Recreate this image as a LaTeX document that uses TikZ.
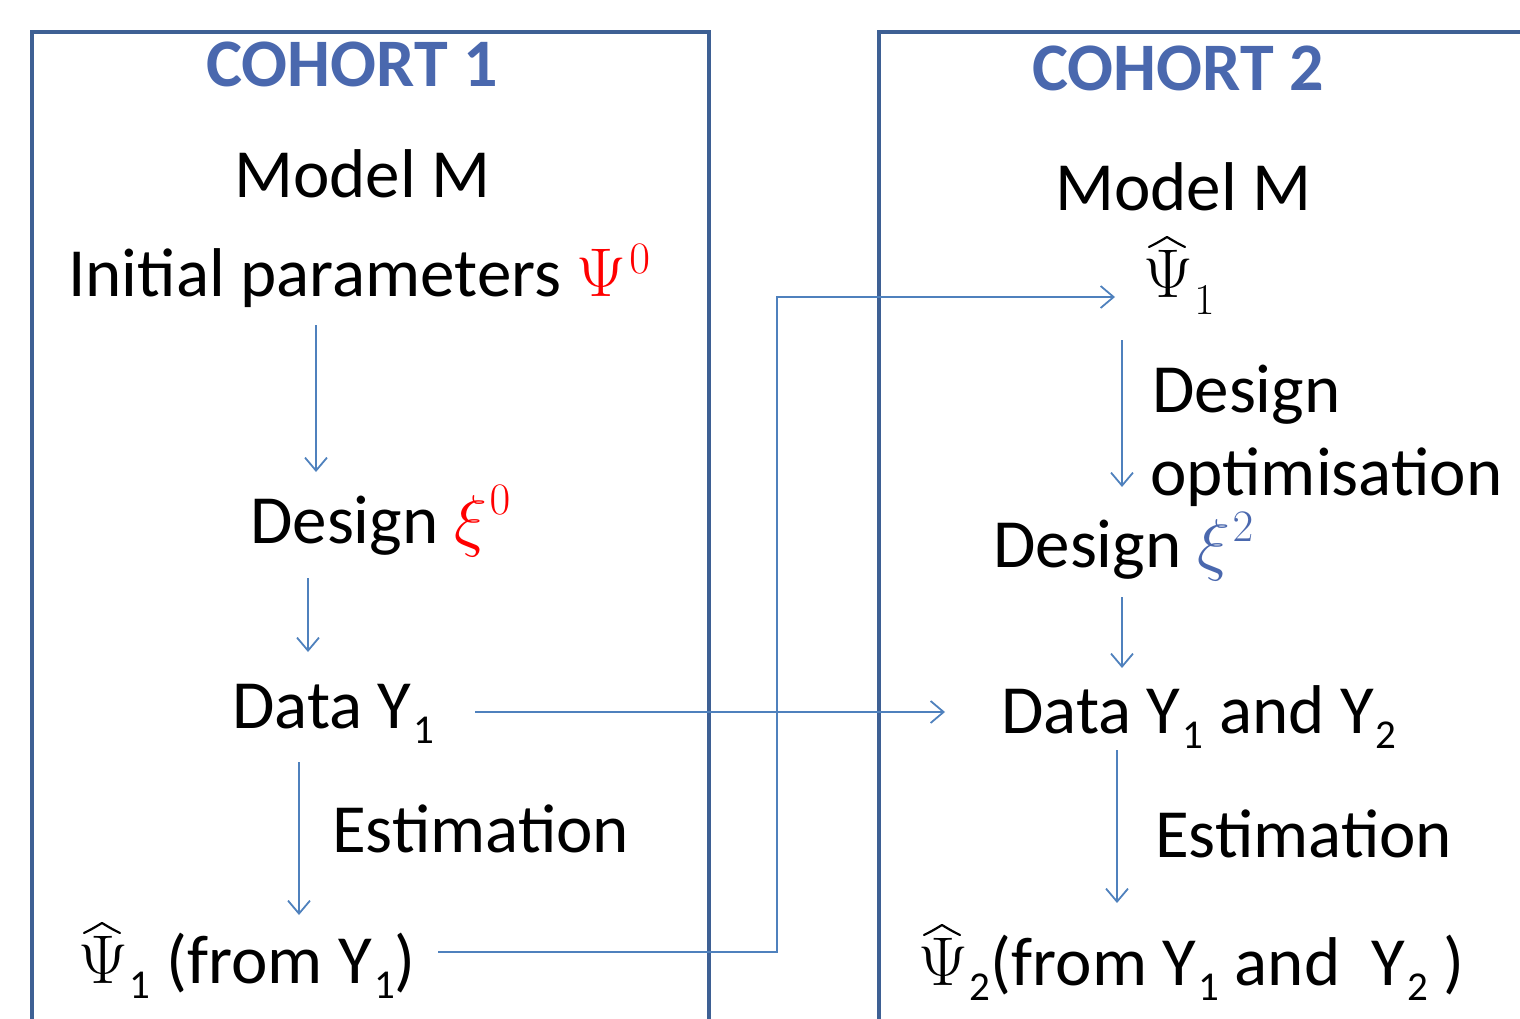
\RequirePackage{fix-cm}
\documentclass[tikz,border=0pt]{standalone}
\usepackage{fontspec}
\setmainfont{Carlito}
\usetikzlibrary{arrows.meta}
\definecolor{boxc}{RGB}{62,96,148}
\definecolor{headc}{RGB}{74,104,174}
\definecolor{arrc}{RGB}{79,129,189}
\definecolor{redc}{RGB}{255,0,0}
\newcommand{\lsub}[1]{\kern0.03em\raisebox{-15pt}{\fontsize{41}{41}\selectfont #1}}
\newcommand{\msub}[1]{\kern0.02em\raisebox{-17pt}{\fontsize{44}{44}\selectfont $#1$}}
\newcommand{\msup}[2]{\kern0.04em\raisebox{#1}{\fontsize{45}{45}\selectfont $#2$}}
\begin{document}
\begin{tikzpicture}[x=1pt,y=-1pt,
  txt/.style={anchor=base west,inner sep=0pt,font=\fontsize{69}{80}\selectfont},
  head/.style={anchor=base,inner sep=0pt,font=\fontsize{68}{80}\selectfont\bfseries,text=headc},
  frame/.style={draw=boxc,line width=4pt},
  hatst/.style={draw=black,line width=2.2pt,line cap=round,line join=round},
  arr/.style={draw=arrc,line width=1.8pt,-{Straight Barb[length=13pt,width=22pt,line width=1.8pt]}},
  link/.style={draw=arrc,line width=1.8pt}]
\useasboundingbox (0,0) rectangle (1520,1019);
% frames
\draw[frame] (32,1025) -- (32,32) -- (709,32) -- (709,1025);
\draw[frame] (879,1025) -- (879,32) -- (1525,32);
% left column
\node[head] (h1) at (352,87) {COHORT 1};
\node[txt] (m1) at (234,198) {Model M};
\node[txt] (init) at (68,296) {Initial parameters \textcolor{redc}{$\Psi$\msup{23pt}{0}}};
\node[txt] (d0) at (250,543) {Design \textcolor{redc}{$\xi$\msup{29pt}{0}}};
\node[txt] (data1) at (232,728) {Data Y\lsub{1}};
\node[txt] (est1) at (332,852) {Estimation};
\node[txt] (psi1) at (78,983) {$\Psi$\lsub{1} (from Y\lsub{1})};
% right column
\node[head] (h2) at (1178,91) {COHORT 2};
\node[txt] (m2) at (1055,211) {Model M};
\node[txt] (psi1b) at (1143,297) {$\Psi$\msub{1}};
\node[txt] (dopt1) at (1152,412) {Design};
\node[txt] (dopt2) at (1150,495) {optimisation};
\node[txt] (d2) at (993,567) {Design \textcolor{headc}{$\xi$\msup{26pt}{2}}};
\node[txt] (data2) at (1001,733) {Data Y\lsub{1} and Y\lsub{2}};
\node[txt] (est2) at (1155,857) {Estimation};
\node[txt] (psi2) at (918,985) {$\Psi$\lsub{2}(from Y\lsub{1} and~~Y\lsub{2} )};
% hats over Psi
\foreach \n in {psi1,psi1b,psi2}{
  \draw[hatst,shift={(\n.base west)}] (6,-50) .. controls (14,-54) .. (24,-60) .. controls (34,-54) .. (42,-50);
}
% arrow end points
\coordinate (a1) at (316,325); \coordinate (a1e) at (316,472);
\coordinate (a2) at (308,578); \coordinate (a2e) at (308,652);
\coordinate (a3) at (299,762); \coordinate (a3e) at (299,915);
\coordinate (b1) at (1122,340); \coordinate (b1e) at (1122,487);
\coordinate (b2) at (1122,597); \coordinate (b2e) at (1122,668);
\coordinate (b3) at (1117,750); \coordinate (b3e) at (1117,903);
\coordinate (c1) at (475,712); \coordinate (c1e) at (945,712);
\coordinate (c2) at (438,952); \coordinate (c2m) at (777,952);
\coordinate (c2n) at (777,297); \coordinate (c2e) at (1115,297);
\draw[arr] (a1) -- (a1e);
\draw[arr] (a2) -- (a2e);
\draw[arr] (a3) -- (a3e);
\draw[arr] (b1) -- (b1e);
\draw[arr] (b2) -- (b2e);
\draw[arr] (b3) -- (b3e);
\draw[arr] (c1) -- (c1e);
\draw[arr] (c2) -- (c2m) -- (c2n) -- (c2e);
\end{tikzpicture}
\end{document}
